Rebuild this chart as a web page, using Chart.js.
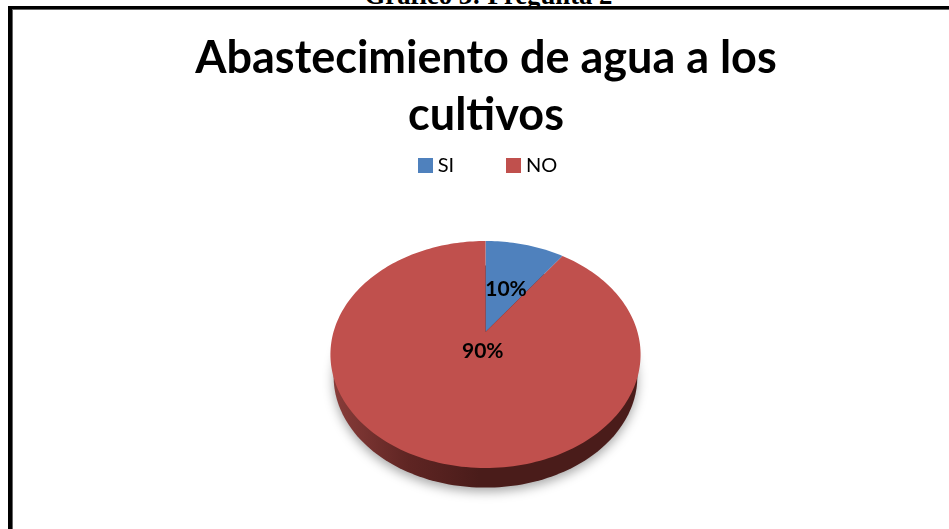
<!DOCTYPE html>
<html lang="es">
<head>
    <meta charset="UTF-8">
    <title>Abastecimiento de agua a los cultivos</title>
    <script src="https://cdn.jsdelivr.net/npm/chart.js"></script>
    <style>
        html, body {
            margin: 0;
            padding: 0;
            background: white;
            overflow: hidden;
        }
        .page {
            position: relative;
            width: 949px;
            height: 529px;
            overflow: hidden;
        }
        .caption {
            position: absolute;
            left: 28px;
            right: 0;
            top: -20px;
            text-align: center;
            font: bold 26.7px "Liberation Serif", serif;
            color: black;
        }
        .frame {
            position: absolute;
            left: 8px;
            top: 6px;
            width: 960px;
            height: 560px;
            border-top: 3px solid black;
            border-left: 4px solid black;
            box-shadow: inset 1px 1px 0 #666;
            background: white;
        }
        canvas {
            position: absolute;
            left: 0;
            top: 0;
        }
    </style>
</head>
<body>
    <div class="page">
        <div class="caption">Gráfico 3: Pregunta 2</div>
        <div class="frame"></div>
        <canvas id="pieChart" width="949" height="529"></canvas>
    </div>

    <script>
        const categories = ["SI", "NO"];
        const percentages = [10, 90];
        const sliceColors = ["#4f81bd", "#c0504d"];
        const titleLines = ["Abastecimiento de agua a los", "cultivos"];

        // tilted disc: where the disc centre lands, its top and bottom rims, half width
        const disc = { x: 485.5, y: 332, top: 241, bottom: 468, halfWidth: 152 };
        // underside of the disc: slightly smaller and further down
        const underside = { scale: 0.98, drop: 23 };
        // how far out along each slice its label sits (0 centre, 1 rim), plus a sideways nudge
        const labelRadius = [0.45, 0.18];
        const labelNudge = [1, 6];

        // perspective factors solved from the centre/top/bottom rows of the disc
        const persp = (function () {
            const up = disc.y - disc.top, down = disc.bottom - disc.y;
            const c = (down - up) / (down + up);
            return { c: c, a: disc.top * c - up };
        })();

        // angle is in chart.js terms, radius is 0..1 of the pie
        function project(angle, radius) {
            const u = radius * Math.cos(angle);
            const v = -radius * Math.sin(angle);
            const w = 1 + persp.c * v;
            return {
                x: disc.x + disc.halfWidth * u / w,
                y: (persp.a * v + disc.y) / w
            };
        }

        function traceArc(ctx, start, end, radius, dy) {
            const steps = Math.max(8, Math.ceil((end - start) * 40));
            for (let i = 0; i <= steps; i++) {
                const p = project(start + (end - start) * i / steps, radius);
                ctx.lineTo(p.x, p.y + dy);
            }
        }

        // 15px legend square; a small boxWidth keeps the text tight against it
        function legendSwatch(color) {
            const c = document.createElement("canvas");
            c.width = 15;
            c.height = 15;
            const g = c.getContext("2d");
            g.fillStyle = color;
            g.fillRect(0, 0, 15, 15);
            return c;
        }

        const tiltedPie = {
            id: "tiltedPie",
            afterLayout(chart) {
                // legend sits a little right of the title's centre
                chart.legend.left += 4;
                chart.legend.right += 4;
            },
            beforeDatasetDraw(chart, args) {
                const ctx = chart.ctx;
                const arcs = args.meta.data;

                // wall under the disc, with a soft drop shadow
                const wallFill = ctx.createLinearGradient(disc.x - 155, 0, disc.x + 155, 0);
                wallFill.addColorStop(0, "#8a3d3a");
                wallFill.addColorStop(0.25, "#5f2523");
                wallFill.addColorStop(0.48, "#4a1c1a");
                wallFill.addColorStop(1, "#4a1c1a");
                ctx.save();
                ctx.shadowColor = "rgba(0, 0, 0, 0.35)";
                ctx.shadowBlur = 11;
                ctx.shadowOffsetY = 4;
                ctx.fillStyle = wallFill;
                ctx.beginPath();
                traceArc(ctx, 0, Math.PI * 2, underside.scale, underside.drop);
                ctx.closePath();
                ctx.fill();
                ctx.restore();

                arcs.forEach(function (arc, i) {
                    const props = arc.getProps(["startAngle", "endAngle"], true);
                    const apex = project(0, 0);
                    ctx.beginPath();
                    ctx.moveTo(apex.x, apex.y);
                    traceArc(ctx, props.startAngle, props.endAngle, 1, 0);
                    ctx.closePath();
                    ctx.fillStyle = sliceColors[i];
                    ctx.fill();
                });
                return false;
            },
            afterDatasetsDraw(chart) {
                const ctx = chart.ctx;
                const arcs = chart.getDatasetMeta(0).data;
                ctx.save();
                ctx.font = "bold 21px Lato";
                ctx.fillStyle = "black";
                ctx.textAlign = "center";
                ctx.textBaseline = "middle";
                arcs.forEach(function (arc, i) {
                    const props = arc.getProps(["startAngle", "endAngle"], true);
                    const p = project((props.startAngle + props.endAngle) / 2, labelRadius[i]);
                    ctx.fillText(percentages[i] + "%", p.x + labelNudge[i], p.y);
                });
                ctx.restore();
            }
        };

        new Chart(document.getElementById("pieChart"), {
            type: "pie",
            data: {
                labels: categories,
                datasets: [{
                    data: percentages,
                    backgroundColor: sliceColors,
                    borderWidth: 0
                }]
            },
            options: {
                responsive: false,
                animation: false,
                layout: { padding: { top: 30, left: 25, right: 2, bottom: 20 } },
                plugins: {
                    tooltip: { enabled: false },
                    title: {
                        display: true,
                        text: titleLines,
                        color: "black",
                        font: { family: "Lato", size: 45, weight: "bold", lineHeight: 1.27 },
                        padding: { top: 0, bottom: -46 }
                    },
                    legend: {
                        position: "top",
                        labels: {
                            color: "black",
                            font: { family: "Lato", size: 20 },
                            usePointStyle: true,
                            boxWidth: 5,
                            boxHeight: 15,
                            padding: 57,
                            generateLabels: function () {
                                return categories.map(function (name, i) {
                                    return {
                                        text: name,
                                        fillStyle: sliceColors[i],
                                        lineWidth: 0,
                                        pointStyle: legendSwatch(sliceColors[i]),
                                        index: i
                                    };
                                });
                            }
                        }
                    }
                }
            },
            plugins: [tiltedPie]
        });
    </script>
</body>
</html>
